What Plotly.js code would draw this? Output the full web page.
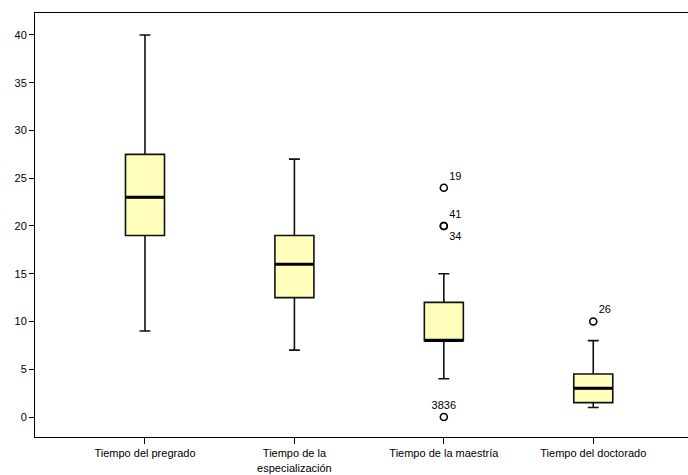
<!DOCTYPE html>
<html>
<head>
<meta charset="utf-8">
<script src="https://cdn.plot.ly/plotly-3.0.1.min.js"></script>
<style>html,body{margin:0;padding:0;background:#fff;}#chart{width:688px;height:475px;}</style>
</head>
<body>
<div id="chart"></div>
<script>
var categories = ["Tiempo del pregrado", "Tiempo de la<br>especialización", "Tiempo de la maestría", "Tiempo del doctorado"];
var lowerWhisker = [9, 7, 4, 1];
var q1Values = [19, 12.5, 8, 1.5];
var medianValues = [23, 16, 8, 3];
var q3Values = [27.5, 19, 12, 4.5];
var upperWhisker = [40, 27, 15, 8];
var outlierCategory = [2, 2, 2, 2, 3];
var outlierValues = [24, 20, 20, 0, 10];
var outlierLabels = ["19", "41", "34", "3836", "26"];
var outlierLabelPos = ["top right", "top right", "bottom right", "top center", "top right"];
var yTicks = [0, 5, 10, 15, 20, 25, 30, 35, 40];

var boxW = 0.261;
var traces = [];
for (var i = 0; i < categories.length; i++) {
  traces.push({
    type: 'box',
    x: [i],
    q1: [q1Values[i]],
    median: [medianValues[i]],
    q3: [q3Values[i]],
    lowerfence: [lowerWhisker[i]],
    upperfence: [upperWhisker[i]],
    width: boxW,
    whiskerwidth: 0.28,
    fillcolor: '#FFFFBB',
    line: {color: '#111111', width: 1.6},
    boxpoints: false,
    hoverinfo: 'skip',
    showlegend: false
  });
}
traces.push({
  type: 'scatter',
  mode: 'markers+text',
  x: outlierCategory,
  y: outlierValues,
  text: outlierLabels,
  textposition: outlierLabelPos,
  textfont: {family: 'Liberation Sans, Arial, sans-serif', size: 11, color: '#000'},
  marker: {symbol: 'circle-open', size: 7, color: '#000', line: {width: 1.6, color: '#000'}},
  cliponaxis: false,
  showlegend: false,
  hoverinfo: 'skip'
});

var shapes = [];
for (var j = 0; j < categories.length; j++) {
  shapes.push({
    type: 'line', xref: 'x', yref: 'y',
    x0: j - boxW / 2, x1: j + boxW / 2,
    y0: medianValues[j], y1: medianValues[j],
    line: {color: '#000', width: 3}
  });
}

var layout = {
  width: 688, height: 475,
  margin: {l: 35, r: 0, t: 13, b: 38},
  paper_bgcolor: '#fff', plot_bgcolor: '#fff',
  font: {family: 'Liberation Sans, Arial, sans-serif', size: 11, color: '#000'},
  showlegend: false,
  shapes: shapes,
  xaxis: {
    range: [-0.736, 3.634],
    tickvals: [0, 1, 2, 3],
    ticktext: categories,
    ticks: 'outside', ticklen: 6, tickcolor: '#000', tickwidth: 1,
    showline: true, linecolor: '#000', linewidth: 1, mirror: true,
    showgrid: false, zeroline: false,
    tickfont: {size: 11}
  },
  yaxis: {
    range: [-2.094, 42.3],
    tickvals: yTicks,
    ticks: 'outside', ticklen: 5, tickcolor: '#000', tickwidth: 1,
    showline: true, linecolor: '#000', linewidth: 1,
    showgrid: false, zeroline: false,
    tickfont: {size: 11}
  }
};

Plotly.newPlot('chart', traces, layout, {staticPlot: true, displayModeBar: false});
</script>
</body>
</html>
